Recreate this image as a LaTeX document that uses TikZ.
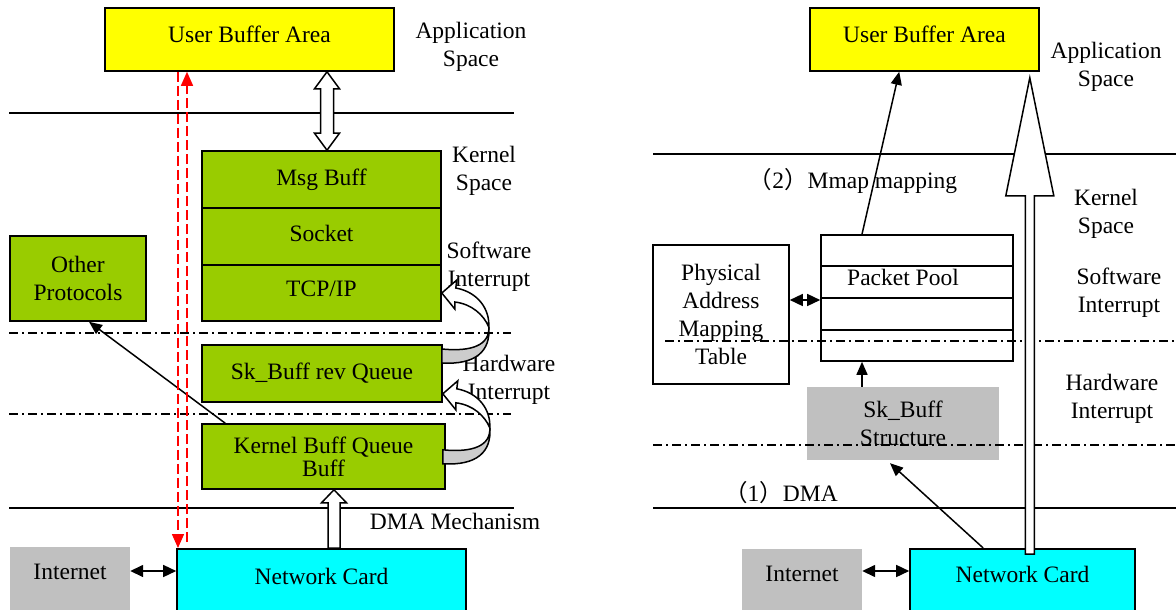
\documentclass[tikz,border=0pt]{standalone}
\usepackage{fontspec}
\setmainfont{Liberation Serif}
\newfontfamily\cjk{Noto Sans CJK SC}
\usetikzlibrary{arrows.meta,positioning,calc}
\definecolor{ubyellow}{HTML}{FFFF00}
\definecolor{kgreen}{HTML}{99CC00}
\definecolor{ncyan}{HTML}{00FFFF}
\definecolor{lgray}{HTML}{C0C0C0}
\definecolor{shade}{HTML}{CCCCCC}
\tikzset{
  % Framed box; the fill colour is the argument.
  blk/.style    = {rectangle, draw=black, fill=#1, line width=1.6pt, inner sep=0pt, align=center},
  blk/.default  = white,
  flat/.style   = {rectangle, fill=lgray, inner sep=0pt, align=center},
  lbl/.style    = {align=center, inner sep=0pt},
  cutbox/.style = {anchor=north, minimum height=90pt, text height=16pt, text depth=#1},
  sep/.style    = {line width=1.6pt},
  dashdot/.style = {line width=1.5pt, dash pattern=on 9pt off 4pt on 2pt off 4pt},
  arr/.style    = {-{Triangle[length=13pt,width=11pt]}, line width=1.5pt},
  darr/.style   = {{Triangle[length=13pt,width=12pt]}-{Triangle[length=13pt,width=12pt]}, line width=1.5pt},
  redarr/.style = {-{Triangle[length=14pt,width=12pt]}, red, line width=1.5pt, dash pattern=on 10pt off 4pt},
  hollow/.style = {draw=black, fill=white, line width=1.5pt, line join=miter},
  % Curled interrupt arrow, tip at the origin, tail below it.
  curl/.pic = {
    \draw[hollow] (0,0) -- (15,-13) -- (14,-5) .. controls (36,-1) and (48,16) .. (47,34)
      .. controls (42,22) and (30,11) .. (13,9) -- (13,16) -- cycle;
    \draw[hollow, fill=shade] (47,34) .. controls (48,52) and (30,59) .. (0,56) -- (0,70)
      .. controls (34,72) and (49,58) .. (47,34) -- cycle;
  },
}
% Upward block arrow: tail, tip, shaft half width, head half width, head length.
\newcommand{\hollowup}[5]{%
  \draw[hollow] ($(#1)+(-#3,0)$) -- ($(#2)+(-#3,#5)$) -- ($(#2)+(-#4,#5)$) -- (#2)
    -- ($(#2)+(#4,#5)$) -- ($(#2)+(#3,#5)$) -- ($(#1)+(#3,0)$) -- cycle;}

\begin{document}
\begin{tikzpicture}[x=1pt, y=-1pt, font=\fontsize{23.5pt}{28pt}\selectfont]
\useasboundingbox (0,0) rectangle (1176,610);
\clip (0,0) rectangle (1176,610);

% left: copy path through the stack
\node[blk=ubyellow, minimum width=289pt, minimum height=63pt, text depth=11pt] (ubaL) at (249.5,39.5) {User Buffer Area};
\node[blk=kgreen, minimum width=239pt, minimum height=57pt] (msgL)  at (321.5,179.5) {Msg Buff};
\node[blk=kgreen, minimum width=239pt, minimum height=57pt, text depth=6pt] (sockL) at (321.5,236.5) {Socket};
\node[blk=kgreen, minimum width=239pt, minimum height=56pt, text depth=9pt] (tcpL)  at (321.5,293) {TCP/IP};
\node[blk=kgreen, minimum width=136pt, minimum height=85pt] (otherL) at (78,278.5) {Other\\Protocols};
\node[blk=kgreen, minimum width=240pt, minimum height=57pt] (skqL) at (322,373.5) {Sk\_Buff rev Queue};
\node[blk=kgreen, minimum width=243pt, minimum height=65pt] (kbqL) at (323.5,456.5) {Kernel Buff Queue\\[-5pt]Buff};
\node[blk=ncyan, minimum width=289pt, cutbox=34pt] (netL) at (321.5,548) {Network Card};
\node[flat, minimum width=120pt, cutbox=42pt] (intL) at (70,547) {Internet};

\node[lbl] (appL) at (471,47)    {Application\\Space};
\node[lbl] (kerL) at (484,171)   {Kernel\\Space};
\node[lbl] (swL)  at (489,266.5) {Software\\Interrupt};
\node[lbl] (hwL)  at (509,380)   {Hardware\\Interrupt};
\node[lbl] (dmaL) at (455,521)   {DMA Mechanism};

\draw[sep] (9,113) -- (514,113);
\draw[sep] (9,508) -- (514,508);
\draw[dashdot] (9,333) -- (511,333);
\draw[dashdot] (9,414) -- (511,414);

\draw[arr] ($(kbqL.north west)+(24,0)$) -- ($(otherL.south)+(11,0)$);
\coordinate (ia) at (0,571);
\draw[darr] (intL.east |- ia) -- (netL.west |- ia);

\coordinate (rdA) at (178,0);
\coordinate (rdB) at (187,0);
\draw[redarr] (rdA |- ubaL.south) -- (rdA |- netL.north);
\draw[redarr] ($(rdB |- netL.north)+(0,-6)$) -- (rdB |- ubaL.south);

\coordinate (dbl) at (327,0);
\coordinate (dblT) at (dbl |- ubaL.south);
\coordinate (dblB) at (dbl |- msgL.north);
\draw[hollow] (dblT) -- ($(dblT)+(12.5,17)$) -- ($(dblT)+(6.5,17)$) -- ($(dblB)+(6.5,-17)$)
  -- ($(dblB)+(12.5,-17)$) -- (dblB) -- ($(dblB)+(-12.5,-17)$) -- ($(dblB)+(-6.5,-17)$)
  -- ($(dblT)+(-6.5,17)$) -- ($(dblT)+(-12.5,17)$) -- cycle;

\coordinate (dmaX) at (334,0);
\coordinate (dmaT) at (dmaX |- kbqL.south);
\coordinate (dmaB) at (dmaX |- netL.north);
\hollowup{dmaB}{dmaT}{6}{12.5}{13}

\pic (softirq) at (tcpL.east) {curl};
\pic (hardirq) at ($(skqL.south east)+(0,-9)$) {curl};

% right: zero-copy path through mmap
\node[blk=ubyellow, minimum width=229pt, minimum height=63pt, text depth=11pt] (ubaR) at (924.5,39.5) {User Buffer Area};
\node[blk, minimum width=136pt, minimum height=139pt] (physR) at (721,314.5) {Physical\\Address\\Mapping\\Table};
\node[blk, minimum width=192pt, minimum height=126pt] (poolR) at (917,298) {};
\foreach \f in {0.25,0.5,0.75}
  \draw[line width=1.6pt] ($(poolR.north west)!\f!(poolR.south west)$) -- ($(poolR.north east)!\f!(poolR.south east)$);
\node[lbl] (poolT) at (903,277) {Packet Pool};
\node[flat, minimum width=192pt, minimum height=73pt] (skbR) at (903,423.5) {Sk\_Buff\\Structure};
\node[blk=ncyan, minimum width=225pt, cutbox=38pt] (netR) at (1022.5,548) {Network Card};
\node[flat, minimum width=120pt, cutbox=42pt] (intR) at (802,549) {Internet};

\node[lbl] (appR)  at (1106,67)    {Application\\Space};
\node[lbl] (mmapR) at (853,181)    {{\cjk （}2{\cjk ）}Mmap mapping};
\node[lbl] (kerR)  at (1106,214)   {Kernel\\Space};
\node[lbl] (swR)   at (1119,292.5) {Software\\Interrupt};
\node[lbl] (hwR)   at (1112,399)   {Hardware\\Interrupt};
\node[lbl] (dmaR)  at (781,493)    {{\cjk （}1{\cjk ）}DMA};

\draw[sep] (653,154) -- (1176,154);
\draw[sep] (653,508) -- (1176,508);
\draw[dashdot] (665,341) -- (1176,341);
\draw[dashdot] (653,445) -- (1176,445);

\coordinate (mm) at (862,0);
\draw[arr] (mm |- poolR.north) -- ($(ubaR.south west)+(90,0)$);
\draw[arr] (mm |- skbR.north) -- (mm |- poolR.south);
\draw[arr] ($(netR.north west)+(74,0)$) -- ($(skbR.south)+(-13,3)$);
\coordinate (pa) at (0,300);
\draw[darr] (physR.east |- pa) -- (poolR.west |- pa);
\draw[darr] (intR.east |- ia) -- (netR.west |- ia);

\coordinate (bigT) at ($(ubaR.south east)+(-10,6)$);
\coordinate (bigB) at ($(bigT |- netR.north)+(0,6)$);
\hollowup{bigB}{bigT}{4.5}{24}{118}
\end{tikzpicture}
\end{document}
